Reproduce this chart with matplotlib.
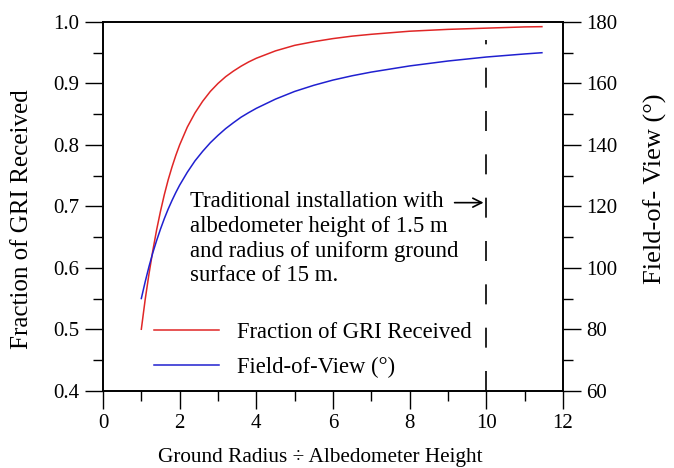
import numpy as np
import matplotlib
matplotlib.use('Agg')
import matplotlib.pyplot as plt

plt.rcParams['font.family'] = 'Liberation Serif'

# ground radius / albedometer height
ratio = [1.0, 1.1, 1.2, 1.3, 1.4, 1.5, 1.6, 1.7, 1.8, 1.9, 2.0, 2.2, 2.4, 2.6, 2.8,
         3.0, 3.2, 3.4, 3.6, 3.8, 4.0, 4.5, 5.0, 5.5, 6.0, 6.5, 7.0, 8.0, 9.0,
         10.0, 11.0, 11.45]
# fraction of GRI received (left axis)
frac_gri = [0.500, 0.548, 0.590, 0.628, 0.662, 0.692, 0.719, 0.743, 0.764, 0.783,
            0.800, 0.829, 0.852, 0.871, 0.887, 0.900, 0.911, 0.920, 0.928, 0.935,
            0.941, 0.953, 0.962, 0.968, 0.973, 0.977, 0.980, 0.985, 0.988, 0.990,
            0.992, 0.9924]
# field-of-view in degrees (right axis)
fov = [90.0, 95.4, 100.4, 104.9, 108.9, 112.6, 116.0, 119.1, 121.9, 124.5, 126.9,
       131.1, 134.8, 137.9, 140.7, 143.1, 145.3, 147.2, 149.0, 150.5, 151.9, 154.9,
       157.4, 159.4, 161.1, 162.5, 163.7, 165.7, 167.3, 168.6, 169.6, 170.0]

note = ('Traditional installation with\nalbedometer height of 1.5 m\n'
        'and radius of uniform ground\nsurface of 15 m.')

fig = plt.figure(figsize=(6.74, 4.68), dpi=100)
ax = fig.add_axes([0.1528, 0.1652, 0.6825, 0.7878])
ax2 = ax.twinx()

l1, = ax.plot(ratio, frac_gri, color='#e02626', lw=1.1)
l2, = ax2.plot(ratio, fov, color='#2020d0', lw=1.1)

ax.plot([10, 10], [0.4, 0.971], color='k', lw=1.2, dashes=(12, 14))

ax.set_xlim(0, 12)
ax.set_ylim(0.4, 1.0)
ax2.set_ylim(60, 180)
ax.set_xticks(np.arange(0, 13, 2))
ax.set_xticks(np.arange(1, 12, 2), minor=True)
ax.set_yticks(np.arange(0.4, 1.01, 0.1))
ax.set_yticks(np.arange(0.45, 1.0, 0.1), minor=True)
ax2.set_yticks(np.arange(60, 181, 20))
ax2.set_yticks(np.arange(70, 180, 20), minor=True)

ax.set_yticklabels(['%.1f' % v for v in np.arange(0.4, 1.01, 0.1)])

for a in (ax, ax2):
    a.tick_params(which='major', direction='out', length=13, width=1.0, labelsize=15, pad=4)
    a.tick_params(which='minor', direction='out', length=7, width=1.0)
    for s in a.spines.values():
        s.set_linewidth(1.2)

ax.set_xlabel('Ground Radius ÷ Albedometer Height', fontsize=15.3)
ax.xaxis.set_label_coords(0.472, -0.155)
ax.set_ylabel('Fraction of GRI Received', fontsize=18)
ax.yaxis.set_label_coords(-0.152, 0.466)
ax2.set_ylabel('Field-of- View (°)', fontsize=19)
ax2.yaxis.set_label_coords(1.176, 0.548)

ax.text(2.27, 0.725, note, fontsize=16.4, va='top', ha='left', linespacing=1.24)
ax.annotate('', xy=(10.0, 0.706), xytext=(9.1, 0.706),
            arrowprops=dict(arrowstyle='->', color='k', lw=1.2, mutation_scale=16))

ax2.legend(handles=[l1, l2], labels=['Fraction of GRI Received', 'Field-of-View (°)'],
           loc='lower left', bbox_to_anchor=(0.066, -0.02), frameon=False,
           fontsize=16.3, handlelength=2.9, handletextpad=0.8, labelspacing=0.6)

fig.savefig('out.png', dpi=100)
